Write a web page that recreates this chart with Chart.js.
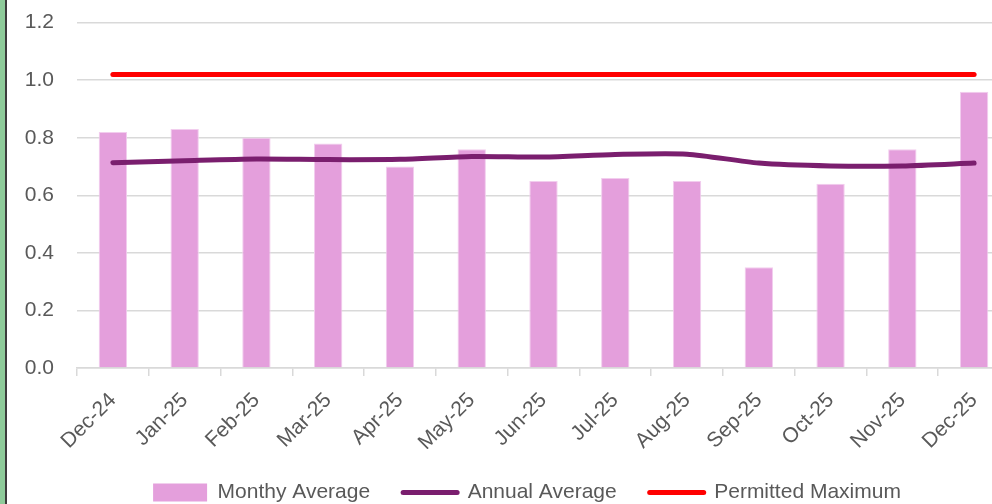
<!DOCTYPE html>
<html>
<head>
<meta charset="utf-8">
<script src="https://cdn.jsdelivr.net/npm/chart.js@4.4.1/dist/chart.umd.min.js"></script>
<style>
  html, body { margin: 0; padding: 0; width: 992px; height: 504px; overflow: hidden; background: #fff; }
  #wrap { position: absolute; left: 0; top: -13px; }
  #edge { position: absolute; left: 0; top: 0; width: 5px; height: 504px; background: #8ecb9a; border-right: 2px solid #3c3c3c; }
</style>
</head>
<body>
<div id="wrap"><canvas id="chart" width="1054" height="526"></canvas></div>
<div id="edge"></div>
<script>
const categories = ['Dec-24', 'Jan-25', 'Feb-25', 'Mar-25', 'Apr-25', 'May-25', 'Jun-25',
  'Jul-25', 'Aug-25', 'Sep-25', 'Oct-25', 'Nov-25', 'Dec-25']
const monthlyAverage = [0.82, 0.83, 0.80, 0.78, 0.70, 0.76, 0.65, 0.66, 0.65, 0.35, 0.64, 0.76, 0.96]
const annualAverage = [0.713, 0.72, 0.726, 0.724, 0.725, 0.735, 0.733, 0.742, 0.743, 0.712, 0.702, 0.702, 0.712]
const permittedMaximum = [1.02, 1.02, 1.02, 1.02, 1.02, 1.02, 1.02, 1.02, 1.02, 1.02, 1.02, 1.02, 1.02]
const yMin = 0
const yMax = 1.2
const yStep = 0.2

const textColor = '#595959'
const gridColor = '#d9d9d9'
const font = { family: '"Liberation Sans", Arial, sans-serif', size: 21 }

const legendItems = [
  { text: 'Monthy Average', fillStyle: '#e49fdc', strokeStyle: '#e49fdc', lineWidth: 0, pointStyle: 'rect' },
  { text: 'Annual Average', fillStyle: '#7a1e6e', strokeStyle: '#7a1e6e', lineWidth: 5, pointStyle: 'line', lineCap: 'round' },
  { text: 'Permitted Maximum', fillStyle: '#ff0000', strokeStyle: '#ff0000', lineWidth: 5, pointStyle: 'line', lineCap: 'round' }
]

// the legend is centred on the whole (cropped) chart, not on the padded area
const legendSpan = {
  id: 'legendSpan',
  afterLayout: (chart) => { chart.legend.right = chart.width }
}

const chartCanvas = document.getElementById('chart')
const chartData = {
  type: 'bar',
  data: {
    labels: categories,
    datasets: [{
      type: 'line',
      label: 'Permitted Maximum',
      data: permittedMaximum,
      borderColor: '#ff0000',
      borderWidth: 5,
      borderCapStyle: 'round',
      pointRadius: 0,
      order: 1
    }, {
      type: 'line',
      label: 'Annual Average',
      data: annualAverage,
      borderColor: '#7a1e6e',
      borderWidth: 5,
      borderCapStyle: 'round',
      borderJoinStyle: 'round',
      tension: 0.25,
      pointRadius: 0,
      order: 2
    }, {
      label: 'Monthy Average',
      data: monthlyAverage,
      backgroundColor: '#e49fdc',
      borderColor: '#f2cdee',
      borderWidth: 1,
      categoryPercentage: 1,
      barPercentage: 0.395,
      order: 3
    }]
  },
  options: {
    responsive: false,
    animation: false,
    layout: { padding: { top: 8, right: 44, left: 0, bottom: 0 } },
    scales: {
      x: {
        offset: true,
        grid: { display: true, drawOnChartArea: false, offset: true, color: gridColor, lineWidth: 1.5, tickLength: 8 },
        border: { color: gridColor, width: 1.5 },
        ticks: { color: textColor, font: font, autoSkip: false, minRotation: 45, maxRotation: 45, padding: 12 },
        afterFit: (scale) => { scale.height = 81 }
      },
      y: {
        min: yMin,
        max: yMax,
        grid: { color: gridColor, lineWidth: 1.5, drawTicks: false },
        border: { display: false },
        ticks: { stepSize: yStep, color: textColor, font: font, padding: 23, callback: (v) => v.toFixed(1) },
        afterFit: (scale) => { scale.width = 77 }
      }
    },
    plugins: {
      legend: {
        position: 'bottom',
        labels: {
          usePointStyle: true,
          pointStyleWidth: 54,
          boxHeight: 18,
          padding: 33,
          color: textColor,
          font: font,
          generateLabels: () => legendItems.map((item) => Object.assign({ fontColor: textColor, hidden: false }, item))
        }
      },
      tooltip: { enabled: false }
    }
  },
  plugins: [legendSpan]
}
const chart = new Chart(chartCanvas, chartData)
</script>
</body>
</html>
